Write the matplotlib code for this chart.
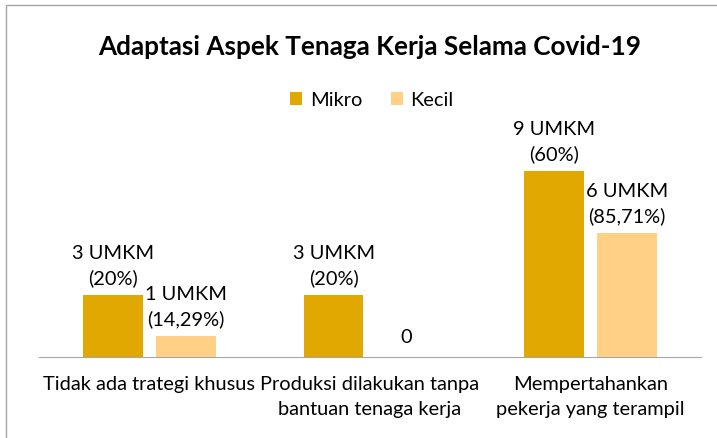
import matplotlib.pyplot as plt
import numpy as np
from matplotlib.patches import Rectangle

plt.rcParams['font.family'] = ['Lato', 'DejaVu Sans']

categories = ["Tidak ada trategi khusus", "Produksi dilakukan tanpa\nbantuan tenaga kerja",
              "Mempertahankan\npekerja yang terampil"]
mikro = [3, 3, 9]
kecil = [1, 0, 6]
mikro_labels = ["3 UMKM\n(20%)", "3 UMKM\n(20%)", "9 UMKM\n(60%)"]
kecil_labels = ["1 UMKM\n(14,29%)", "0", "6 UMKM\n(85,71%)"]

W, H = 717, 439
fig = plt.figure(figsize=(W / 100, H / 100), dpi=100)

# outer chart frame (only top/left visible in the reference)
fig.patches.append(Rectangle((6 / W, -0.1), 1.2, (H - 6) / H + 0.1, transform=fig.transFigure,
                             fill=False, edgecolor='#a6a6a6', linewidth=1))

# axes placed in pixel terms: x 39..701, baseline at y=358, top at y=110
ax = fig.add_axes([39 / W, (H - 358) / H, 662 / W, 248 / H])
x = np.arange(len(categories))
w = 0.27
b1 = ax.bar(x - 0.165, mikro, w, color='#E0A800', label='Mikro')
b2 = ax.bar(x + 0.165, kecil, w, color='#FFD086', label='Kecil')

fs = 14.4
for bars, labels in ((b1, mikro_labels), (b2, kecil_labels)):
    for bar, lab in zip(bars, labels):
        off = 8.5 if lab == "0" else 6.5
        ax.annotate(lab, (bar.get_x() + bar.get_width() / 2, bar.get_height()),
                    xytext=(0, off), textcoords='offset points', ha='center', va='bottom',
                    fontsize=fs, color='#000000', linespacing=1.5)

ax.set_xlim(-0.5, 2.5)
ax.set_ylim(0, 12)
ax.set_yticks([])
ax.set_xticks(x)
ax.set_xticklabels(categories, fontsize=fs, linespacing=1.55)
ax.tick_params(axis='x', length=0, pad=13)
for s in ['top', 'right', 'left']:
    ax.spines[s].set_visible(False)
ax.spines['bottom'].set_color('#a6a6a6')

fig.text(370 / W, 1 - 47 / H, "Adaptasi Aspek Tenaga Kerja Selama Covid-19", ha='center', va='center',
         fontsize=18.8, fontweight='bold')
fig.legend(loc='center', bbox_to_anchor=(372 / W, 1 - 101 / H), ncol=2, frameon=False, fontsize=fs,
           handlelength=0.6, handleheight=0.6, handletextpad=0.4, columnspacing=1.4)

fig.savefig('out.png', dpi=100)
